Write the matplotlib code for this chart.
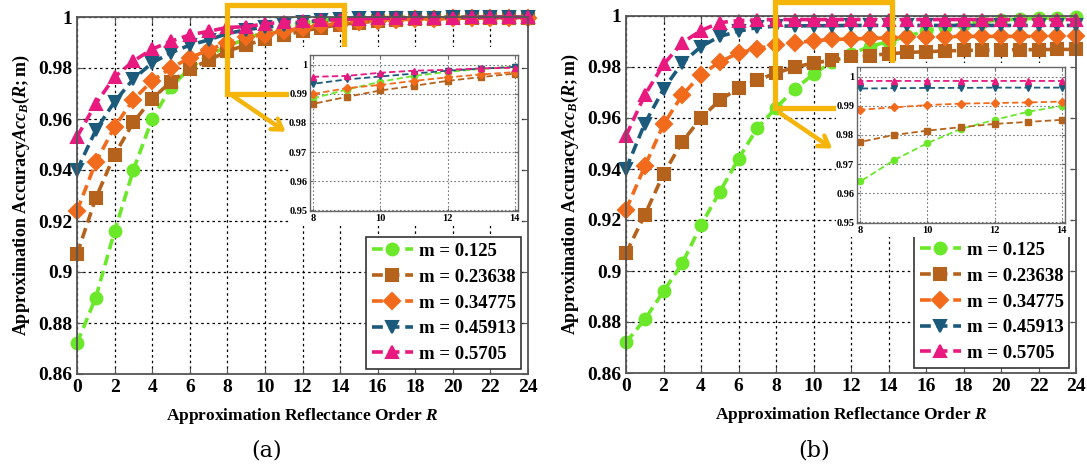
import numpy as np
import matplotlib
matplotlib.use("Agg")
import matplotlib.pyplot as plt
from matplotlib.patches import Rectangle
from matplotlib.ticker import FuncFormatter

plt.rcParams['font.family'] = ['Liberation Serif', 'DejaVu Serif']
plt.rcParams['font.weight'] = 'bold'
plt.rcParams['axes.labelweight'] = 'bold'
plt.rcParams['mathtext.fontset'] = 'custom'
plt.rcParams['mathtext.rm'] = 'Liberation Serif:bold'
plt.rcParams['mathtext.it'] = 'Liberation Serif:italic:bold'
plt.rcParams['mathtext.bf'] = 'Liberation Serif:bold'

# ---- data -------------------------------------------------------------
R = np.arange(0, 25)
labels = ['m = 0.125', 'm = 0.23638', 'm = 0.34775', 'm = 0.45913', 'm = 0.5705']
colors = ['#6be82a', '#b5621c', '#f26b1d', '#1c5a7c', '#e8197f']
markers = ['o', 's', 'D', 'v', '^']

# panel (a)
a_green = [0.872, 0.890, 0.916, 0.940, 0.960, 0.9725, 0.980, 0.985, 0.9885, 0.9915,
           0.9942, 0.9962, 0.9976, 0.9986, 0.9993, 0.9996, 0.9998, 0.9999, 0.9999,
           1.0, 1.0, 1.0, 1.0, 1.0, 1.0]
a_brown = [0.907, 0.929, 0.946, 0.9587, 0.968, 0.9746, 0.9796, 0.983, 0.9866, 0.989,
           0.9912, 0.9928, 0.9945, 0.9958, 0.997, 0.9978, 0.9984, 0.9988, 0.9991,
           0.9993, 0.9995, 0.9996, 0.9997, 0.9998, 0.9998]
a_orange = [0.924, 0.943, 0.957, 0.9676, 0.975, 0.980, 0.984, 0.987, 0.990, 0.992,
            0.9931, 0.9945, 0.9957, 0.9967, 0.9975, 0.9981, 0.9986, 0.9989, 0.9992,
            0.9994, 0.9995, 0.9996, 0.9997, 0.9998, 0.9998]
a_blue = [0.940, 0.9556, 0.9668, 0.9757, 0.982, 0.986, 0.989, 0.991, 0.9935, 0.995,
          0.996, 0.997, 0.998, 0.9987, 0.9993, 0.9995, 0.9996, 0.9997, 0.9998,
          0.9998, 0.9999, 0.9999, 0.9999, 0.9999, 0.9999]
a_pink = [0.953, 0.966, 0.9765, 0.9827, 0.9874, 0.9905, 0.993, 0.9944, 0.9959, 0.9962,
          0.9973, 0.998, 0.9983, 0.9988, 0.999, 0.9993, 0.9995, 0.9996, 0.9997,
          0.9998, 0.9998, 0.9999, 0.9999, 0.9999, 0.9999]

# panel (b)
b_green = [0.872, 0.881, 0.892, 0.903, 0.918, 0.931, 0.944, 0.956, 0.964, 0.9713,
           0.9772, 0.9821, 0.9852, 0.988, 0.990, 0.992, 0.9942, 0.9958, 0.997,
           0.9978, 0.9984, 0.9988, 0.9991, 0.9993, 0.9995]
b_brown = [0.907, 0.922, 0.938, 0.9507, 0.960, 0.967, 0.9717, 0.9749, 0.9776, 0.980,
           0.9815, 0.9827, 0.9838, 0.9845, 0.9852, 0.9857, 0.986, 0.9863, 0.9865,
           0.9866, 0.9867, 0.9868, 0.9868, 0.9869, 0.9869]
b_orange = [0.924, 0.941, 0.9575, 0.969, 0.977, 0.982, 0.9855, 0.9872, 0.9887, 0.9895,
            0.9903, 0.9908, 0.991, 0.9912, 0.9915, 0.9917, 0.9918, 0.9919, 0.992,
            0.992, 0.992, 0.992, 0.992, 0.992, 0.992]
b_blue = [0.940, 0.9578, 0.9713, 0.9816, 0.988, 0.992, 0.994, 0.9955, 0.996, 0.9961,
          0.9962, 0.9962, 0.9963, 0.9963, 0.9963, 0.9963, 0.9963, 0.9963, 0.9963,
          0.9963, 0.9963, 0.9963, 0.9963, 0.9963, 0.9963]
b_pink = [0.953, 0.969, 0.981, 0.9895, 0.9943, 0.9974, 0.9982, 0.9985, 0.9986, 0.9986,
          0.9986, 0.9986, 0.9986, 0.9986, 0.9986, 0.9986, 0.9986, 0.9986, 0.9986,
          0.9986, 0.9986, 0.9986, 0.9986, 0.9986, 0.9986]

series_a = [a_green, a_brown, a_orange, a_blue, a_pink]
series_b = [b_green, b_brown, b_orange, b_blue, b_pink]

yellow = '#f5b50a'
fmt = FuncFormatter(lambda v, p: '%g' % round(v, 4))

fig = plt.figure(figsize=(10.87, 4.75), dpi=100)


def px(x0, y0, x1, y1):
    # pixel box -> figure fraction [left, bottom, width, height]
    return [x0 / 1087, 1 - y1 / 475, (x1 - x0) / 1087, (y1 - y0) / 475]


def panel(series, main_box, inset_box, white_box, rect, arrow, caption, cap_x):
    ax = fig.add_axes(px(*main_box))
    for ys, c, mk, lb in zip(series, colors, markers, labels):
        ax.plot(R, ys, ls='--', color=c, lw=2.6, marker=mk, ms=8.5,
                mfc=c, mec=c, mew=1.5, label=lb, clip_on=False,
                dashes=(3, 1.6))
    ax.set_xlim(0, 24)
    ax.set_ylim(0.86, 1.0)
    ax.set_xticks(np.arange(0, 25, 2))
    ax.set_yticks(np.arange(0.86, 1.001, 0.02))
    ax.yaxis.set_major_formatter(fmt)
    ax.grid(True, ls=(0, (2, 2.5)), color='black', lw=0.9)
    ax.tick_params(direction='in', top=True, right=True, labelsize=14,
                   length=4, color='#555555')
    for s in ax.spines.values():
        s.set_color('#555555')
        s.set_linewidth(1.3)
    ax.set_xlabel('Approximation Reflectance Order $R$', fontsize=12.5)
    ax.xaxis.set_label_coords(0.5, -0.09)
    ax.set_ylabel('Approximation Accuracy$Acc_B(R;\\mathrm{m})$', fontsize=13)
    ax.yaxis.set_label_coords(-0.1, 0.5)
    leg = ax.legend(loc='lower right', bbox_to_anchor=(0.985, 0.015),
                    borderaxespad=0, fontsize=13.5, fancybox=False,
                    edgecolor='#333333', framealpha=1, labelspacing=0.46,
                    handlelength=2.2, handletextpad=0.3, borderpad=0.3)
    leg.get_frame().set_linewidth(1.2)

    # yellow zoom box and arrow
    ax.add_patch(Rectangle((rect[0], rect[1]), rect[2] - rect[0], rect[3] - rect[1],
                           fill=False, ec=yellow, lw=3.8, clip_on=False, zorder=6))
    ax.annotate('', xy=arrow[1], xytext=arrow[0],
                arrowprops=dict(arrowstyle='->,head_length=0.7,head_width=0.45',
                                color=yellow, lw=3.2, shrinkA=0, shrinkB=0),
                annotation_clip=False, zorder=6)

    # white backdrop for the inset
    fig.add_artist(Rectangle(px(*white_box)[:2], *px(*white_box)[2:],
                             transform=fig.transFigure, fc='white', ec='none', zorder=1))

    ins = fig.add_axes(px(*inset_box))
    ins.set_zorder(3)
    for ys, c, mk in zip(series, colors, markers):
        ins.plot(R, ys, ls='--', color=c, lw=1.3, marker=mk, ms=4.5,
                 mfc=c, mec=c, mew=1.0, dashes=(3.5, 1.8))
    ins.set_xlim(7.9, 14.1)
    ins.set_ylim(0.9497, 1.0034)
    ins.set_xticks([8, 10, 12, 14])
    ins.set_yticks(np.arange(0.95, 1.0001, 0.01))
    ins.yaxis.set_major_formatter(fmt)
    ins.grid(True, ls=(0, (1.5, 2)), color='#777777', lw=0.8)
    ins.tick_params(direction='in', top=True, right=True, labelsize=7.5,
                    length=2.5, pad=2, color='#666666')
    for s in ins.spines.values():
        s.set_color('#666666')
        s.set_linewidth(1.0)

    fig.text(cap_x / 1087, 1 - 451 / 475, caption, ha='center', va='center',
             fontsize=16, fontweight='normal', family='DejaVu Serif')
    return ax


panel(series_a, (77, 17, 528, 374), (310, 55, 518, 211), (289, 47, 521, 226),
      (8.0, 0.970, 14.2, 1.0047), ((8.3, 0.969), (11.1, 0.955)),
      '(a)', 267)
panel(series_b, (626, 16, 1076, 373), (857, 67, 1065, 223), (836, 63, 1070, 237),
      (7.95, 0.964, 14.2, 1.0055), ((8.2, 0.962), (11.0, 0.948)),
      '(b)', 814)

fig.savefig('out.png', dpi=100)
